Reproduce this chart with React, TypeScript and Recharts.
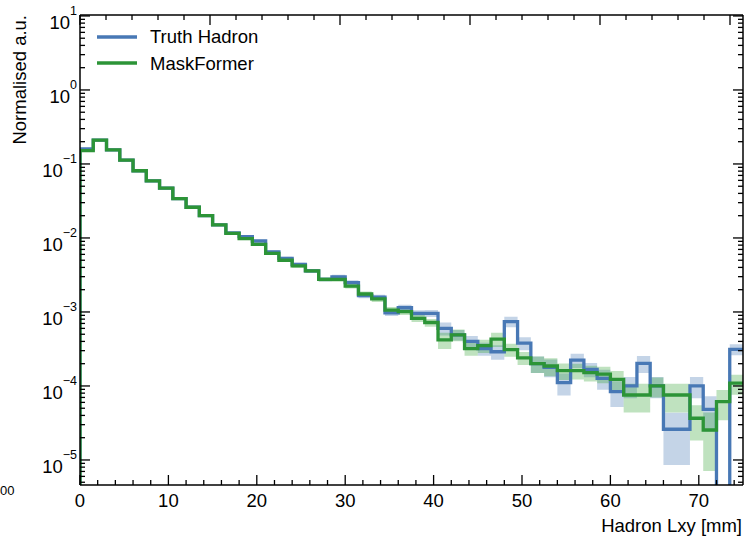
import { Area, ComposedChart, Line, XAxis, YAxis } from "recharts";

// bin edges in mm (50 bins of 1.5 mm)
const binEdges = [
  0, 1.5, 3, 4.5, 6, 7.5, 9, 10.5, 12, 13.5, 15, 16.5, 18, 19.5, 21, 22.5, 24, 25.5, 27, 28.5,
  30, 31.5, 33, 34.5, 36, 37.5, 39, 40.5, 42, 43.5, 45, 46.5, 48, 49.5, 51, 52.5, 54, 55.5, 57, 58.5,
  60, 61.5, 63, 64.5, 66, 67.5, 69, 70.5, 72, 73.5, 75,
];

const truthHadron = [
  0.16, 0.21, 0.155, 0.113, 0.081, 0.059, 0.047, 0.034, 0.026, 0.02,
  0.015, 0.0117, 0.0104, 0.0091, 0.0065, 0.0053, 0.0044, 0.0036, 0.00275, 0.00297,
  0.00249, 0.00166, 0.00158, 0.00097, 0.00114, 0.00096, 0.00096, 0.0006, 0.00049, 0.0004,
  0.00032, 0.00029, 0.00074, 0.00038, 0.0002, 0.000179, 0.000111, 0.000224, 0.000168, 0.000127,
  0.0000838, 0.0001, 0.000202, 0.0001, 0.000026, 0.000026, 0.0001, 0.0000484, 0, 0.000313,
];

const maskFormer = [
  0.151, 0.21, 0.155, 0.113, 0.081, 0.059, 0.047, 0.034, 0.026, 0.02,
  0.015, 0.0115, 0.0098, 0.0082, 0.0062, 0.005, 0.0042, 0.0036, 0.00275, 0.00275,
  0.00224, 0.00175, 0.0015, 0.00106, 0.00101, 0.00082, 0.00072, 0.00042, 0.00049, 0.00032,
  0.00035, 0.00043, 0.00031, 0.00024, 0.0002, 0.000186, 0.000161, 0.000161, 0.000151, 0.000145,
  0.000123, 0.0000755, 0.0000755, 0.0001, 0.0000755, 0.0000755, 0.0000366, 0.0000254, 0.0000614, 0.000109,
];

// relative uncertainty per bin (band half-width / value)
const truthErr = [
  0.01, 0.01, 0.01, 0.012, 0.014, 0.016, 0.018, 0.02, 0.022, 0.025,
  0.028, 0.03, 0.035, 0.04, 0.045, 0.05, 0.055, 0.06, 0.065, 0.07,
  0.075, 0.08, 0.085, 0.09, 0.1, 0.1, 0.11, 0.2, 0.16, 0.18,
  0.2, 0.22, 0.16, 0.2, 0.25, 0.27, 0.33, 0.22, 0.22, 0.3,
  0.38, 0.32, 0.26, 0.32, 0.67, 0.67, 0.32, 0.5, 0, 0.17,
];

const maskErr = [
  0.01, 0.01, 0.01, 0.012, 0.014, 0.016, 0.018, 0.02, 0.022, 0.025,
  0.028, 0.03, 0.035, 0.04, 0.045, 0.05, 0.055, 0.06, 0.065, 0.07,
  0.075, 0.08, 0.09, 0.1, 0.1, 0.11, 0.12, 0.25, 0.18, 0.2,
  0.2, 0.22, 0.2, 0.2, 0.25, 0.27, 0.25, 0.24, 0.24, 0.25,
  0.3, 0.42, 0.42, 0.3, 0.42, 0.42, 0.5, 0.72, 0.44, 0.3,
];

const xMajorTicks = [0, 10, 20, 30, 40, 50, 60, 70];
const xMinorTicks = [2, 4, 6, 8, 12, 14, 16, 18, 22, 24, 26, 28, 32, 34, 36, 38, 42, 44, 46, 48, 52, 54, 56, 58, 62, 64, 66, 68, 72, 74];
const yMajorTicks = [1e-5, 1e-4, 1e-3, 1e-2, 1e-1, 1, 10];
const yMajorLabels = ["−5", "−4", "−3", "−2", "−1", "0", "1"];
const yMinorMultipliers = [2, 3, 4, 5, 6, 7, 8, 9];
const yDecades = [1e-6, 1e-5, 1e-4, 1e-3, 1e-2, 1e-1, 1];

const Y_MIN = 4.59e-6;
const Y_MAX = 10.3;
const FLOOR = 1e-8; // empty bins drop below the axis

const BLUE = "#4878b5";
const GREEN = "#2c9437";
const FONT = "'Liberation Sans', Arial, Helvetica, sans-serif";
const FS = 18.5;
const MAJOR = 10;
const MINOR = 5;
const TW = 1.3; // tick width
const OFF = 8; // recharts default tickSize (6) + tickMargin (2)

const yMinorTicks = yDecades
  .flatMap((d) => yMinorMultipliers.map((m) => m * d))
  .filter((v) => v > Y_MIN && v < Y_MAX);
const xTicks = [...xMajorTicks, ...xMinorTicks].sort((a, b) => a - b);
const yTicks = [...yMajorTicks, ...yMinorTicks].sort((a, b) => a - b);

type Row = {
  x: number;
  truth: number;
  mask: number;
  truthBand: [number, number] | null;
  maskBand: [number, number] | null;
};

const band = (v: number, e: number): [number, number] =>
  v > 0 ? [v * (1 - e), v * (1 + e)] : [FLOOR, FLOOR];

const chartData: Row[] = [{ x: 0, truth: FLOOR, mask: FLOOR, truthBand: null, maskBand: null }];
binEdges.forEach((edge, i) => {
  const k = Math.min(i, truthHadron.length - 1);
  chartData.push({
    x: edge,
    truth: truthHadron[k] > 0 ? truthHadron[k] : FLOOR,
    mask: maskFormer[k] > 0 ? maskFormer[k] : FLOOR,
    truthBand: band(truthHadron[k], truthErr[k]),
    maskBand: band(maskFormer[k], maskErr[k]),
  });
});

const majorYIndex = (v: number) =>
  yMajorTicks.findIndex((t) => Math.abs(Math.log10(v) - Math.log10(t)) < 1e-6);

// tick text position is OFF px outside the axis line; marks are drawn inward from the line
const renderBottomTick = (props: any) => {
  const { x, y, payload } = props;
  const axisY = y - OFF;
  const major = xMajorTicks.includes(payload.value);
  const len = major ? MAJOR : MINOR;
  return (
    <g>
      <rect x={x - TW / 2} y={axisY - len} width={TW} height={len} fill="#000" />
      {major && (
        <text x={x} y={axisY + 22} textAnchor="middle" fontSize={FS} fontFamily={FONT} fill="#000">
          {payload.value}
        </text>
      )}
    </g>
  );
};

const renderTopTick = (props: any) => {
  const { x, y, payload } = props;
  const axisY = y + OFF;
  const len = xMajorTicks.includes(payload.value) ? MAJOR : MINOR;
  return <rect x={x - TW / 2} y={axisY} width={TW} height={len} fill="#000" />;
};

const renderLeftTick = (props: any) => {
  const { x, y, payload } = props;
  const axisX = x + OFF;
  const idx = majorYIndex(payload.value);
  const len = idx >= 0 ? MAJOR : MINOR;
  return (
    <g>
      <rect x={axisX} y={y - TW / 2} width={len} height={TW} fill="#000" />
      {idx >= 0 && (
        <text x={axisX - 3} y={y + 13} textAnchor="end" fontSize={FS} fontFamily={FONT} fill="#000">
          10
          <tspan dy={-14} fontSize={12.5}>
            {yMajorLabels[idx]}
          </tspan>
        </text>
      )}
    </g>
  );
};

const renderRightTick = (props: any) => {
  const { x, y, payload } = props;
  const axisX = x - OFF;
  const len = majorYIndex(payload.value) >= 0 ? MAJOR : MINOR;
  return <rect x={axisX - len} y={y - TW / 2} width={len} height={TW} fill="#000" />;
};

const frame = { stroke: "#000", strokeWidth: 1.5 };

export default function App() {
  return (
    <div style={{ position: "absolute", left: 0, top: 0, width: 744, height: 540, background: "#fff" }}>
      <ComposedChart
        width={744}
        height={540}
        data={chartData}
        margin={{ top: 0, right: 0, bottom: 0, left: 0 }}
      >
        <XAxis xAxisId="bottom" dataKey="x" type="number" domain={[0, 75]} ticks={xTicks} interval={0}
          allowDataOverflow height={55} tickSize={6} tickMargin={2} tickLine={false} axisLine={frame}
          tick={renderBottomTick} />
        <XAxis xAxisId="top" orientation="top" type="number" domain={[0, 75]} ticks={xTicks} interval={0}
          allowDataOverflow height={15} tickSize={6} tickMargin={2} tickLine={false} axisLine={frame}
          tick={renderTopTick} />
        <YAxis yAxisId="left" scale="log" type="number" domain={[Y_MIN, Y_MAX]} ticks={yTicks} interval={0}
          allowDataOverflow width={80} tickSize={6} tickMargin={2} tickLine={false} axisLine={frame}
          tick={renderLeftTick} />
        <YAxis yAxisId="right" orientation="right" scale="log" type="number" domain={[Y_MIN, Y_MAX]}
          ticks={yTicks} interval={0} allowDataOverflow width={1} tickSize={6} tickMargin={2} tickLine={false}
          axisLine={frame} tick={renderRightTick} />
        <Area
          xAxisId="bottom"
          yAxisId="left"
          dataKey="truthBand"
          type="stepAfter"
          stroke="none"
          fill={BLUE}
          fillOpacity={0.32}
          isAnimationActive={false}
        />
        <Area
          xAxisId="bottom"
          yAxisId="left"
          dataKey="maskBand"
          type="stepAfter"
          stroke="none"
          fill="#2ca02c"
          fillOpacity={0.3}
          isAnimationActive={false}
        />
        <Line
          xAxisId="bottom"
          yAxisId="left"
          dataKey="truth"
          type="stepAfter"
          stroke={BLUE}
          strokeWidth={3.3}
          dot={false}
          isAnimationActive={false}
        />
        <Line
          xAxisId="bottom"
          yAxisId="left"
          dataKey="mask"
          type="stepAfter"
          stroke={GREEN}
          strokeWidth={3.3}
          dot={false}
          isAnimationActive={false}
        />
      </ComposedChart>
      <svg
        width={744}
        height={540}
        style={{ position: "absolute", left: 0, top: 0, pointerEvents: "none" }}
        fontFamily={FONT}
      >
        <text transform="translate(26,15) rotate(-90)" textAnchor="end" fontSize={FS} fill="#000">
          Normalised a.u.
        </text>
        <text x={742} y={532} textAnchor="end" fontSize={FS} fill="#000">
          Hadron Lxy [mm]
        </text>
        <text x={0} y={495} fontSize={13} fill="#000">
          00
        </text>
        <line x1={97} x2={137} y1={37} y2={37} stroke={BLUE} strokeWidth={3.5} />
        <text x={150} y={43} fontSize={FS} fill="#000">
          Truth Hadron
        </text>
        <line x1={97} x2={137} y1={63} y2={63} stroke={GREEN} strokeWidth={3.5} />
        <text x={150} y={70} fontSize={FS} fill="#000">
          MaskFormer
        </text>
      </svg>
    </div>
  );
}
